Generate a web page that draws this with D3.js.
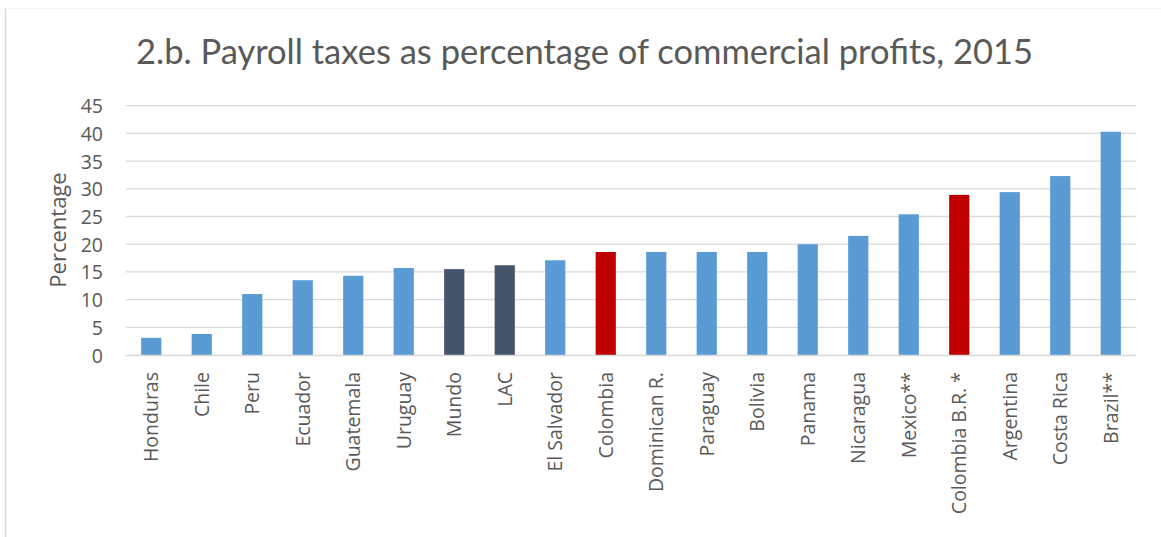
<!DOCTYPE html>
<html>
<head>
<meta charset="utf-8">
<script src="https://cdn.jsdelivr.net/npm/d3@7"></script>
<style>
  html, body { margin: 0; padding: 0; background: #fff; }
  svg { display: block; }
</style>
</head>
<body>
<svg id="chart" width="1161" height="537"></svg>
<script>
// Payroll taxes as a share of commercial profits, 2015
const categories = ["Honduras", "Chile", "Peru", "Ecuador", "Guatemala", "Uruguay", "Mundo", "LAC",
  "El Salvador", "Colombia", "Dominican R.", "Paraguay", "Bolivia", "Panama", "Nicaragua",
  "Mexico**", "Colombia B.R. *", "Argentina", "Costa Rica", "Brazil**"];
const values = [3.1, 3.8, 11.0, 13.5, 14.3, 15.7, 15.5, 16.2, 17.1, 18.6, 18.6, 18.6, 18.6,
  20.0, 21.5, 25.4, 28.9, 29.4, 32.3, 40.3];
// bar group: 0 = country, 1 = aggregate (world / LAC), 2 = Colombia
const groups = [0, 0, 0, 0, 0, 0, 1, 1, 0, 2, 0, 0, 0, 0, 0, 0, 2, 0, 0, 0];
const yTicks = [0, 5, 10, 15, 20, 25, 30, 35, 40, 45];

const palette = ["#5B9BD5", "#44546A", "#C00000"];
const textColor = "#595959";
const gridColor = "#D9D9D9";

const svg = d3.select("#chart");
const plot = { left: 126, right: 1136, top: 105.7, bottom: 355 };

// frame of the chart area
svg.append("line").attr("x1", 5.5).attr("x2", 5.5).attr("y1", 8).attr("y2", 537)
  .attr("stroke", "#D9D9D9").attr("stroke-width", 1.5);
svg.append("line").attr("x1", 5).attr("x2", 1161).attr("y1", 8.5).attr("y2", 8.5)
  .attr("stroke", "#F2F2F2").attr("stroke-width", 1);

const x = d3.scaleBand().domain(categories).range([plot.left, plot.right]).paddingInner(0.6).paddingOuter(0.3);
const y = d3.scaleLinear().domain([0, 45]).range([plot.bottom, plot.top]);

// horizontal gridlines
svg.append("g").selectAll("line").data(yTicks.filter(d => d > 0)).join("line")
  .attr("x1", plot.left).attr("x2", plot.right)
  .attr("y1", d => y(d)).attr("y2", d => y(d))
  .attr("stroke", gridColor).attr("stroke-width", 1.3);

// y axis labels
const yAxis = d3.axisLeft(y).tickValues(yTicks).tickSize(0).tickPadding(0);
svg.append("g").attr("transform", `translate(${103},0)`).call(yAxis)
  .call(g => g.select(".domain").remove())
  .call(g => g.selectAll("text").attr("fill", textColor)
    .style("font-family", "'Open Sans', sans-serif").style("font-size", "19.5px").attr("dy", "0.36em"));

// bars
svg.append("g").selectAll("rect").data(categories).join("rect")
  .attr("x", d => x(d))
  .attr("width", x.bandwidth())
  .attr("y", (d, i) => y(values[i]))
  .attr("height", (d, i) => y(0) - y(values[i]))
  .attr("fill", (d, i) => palette[groups[i]]);

// baseline
svg.append("line").attr("x1", plot.left).attr("x2", plot.right)
  .attr("y1", y(0) + 0.5).attr("y2", y(0) + 0.5)
  .attr("stroke", gridColor).attr("stroke-width", 1.6);

// category labels, rotated
const xAxis = d3.axisBottom(x).tickSize(0).tickPadding(0);
svg.append("g").attr("transform", `translate(0,${y(0)})`).call(xAxis)
  .call(g => g.select(".domain").remove())
  .call(g => g.selectAll("text")
    .attr("fill", textColor)
    .style("font-family", "'Open Sans', sans-serif").style("font-size", "19.5px")
    .attr("text-anchor", "end")
    .attr("transform", "translate(0,17) rotate(-90)")
    .attr("x", 0).attr("y", 0).attr("dy", "0.36em"));

// y axis title
svg.append("text")
  .attr("transform", `translate(65.5,230) rotate(-90)`)
  .attr("text-anchor", "middle")
  .attr("fill", textColor)
  .style("font-family", "'Open Sans', sans-serif").style("font-size", "22px")
  .text("Percentage");

// chart title
svg.append("text")
  .attr("x", 136).attr("y", 64.3)
  .attr("fill", textColor)
  .attr("textLength", 897).attr("lengthAdjust", "spacingAndGlyphs")
  .style("font-family", "Lato, sans-serif").style("font-size", "34px")
  .text("2.b. Payroll taxes as percentage of commercial profits, 2015");
</script>
</body>
</html>
